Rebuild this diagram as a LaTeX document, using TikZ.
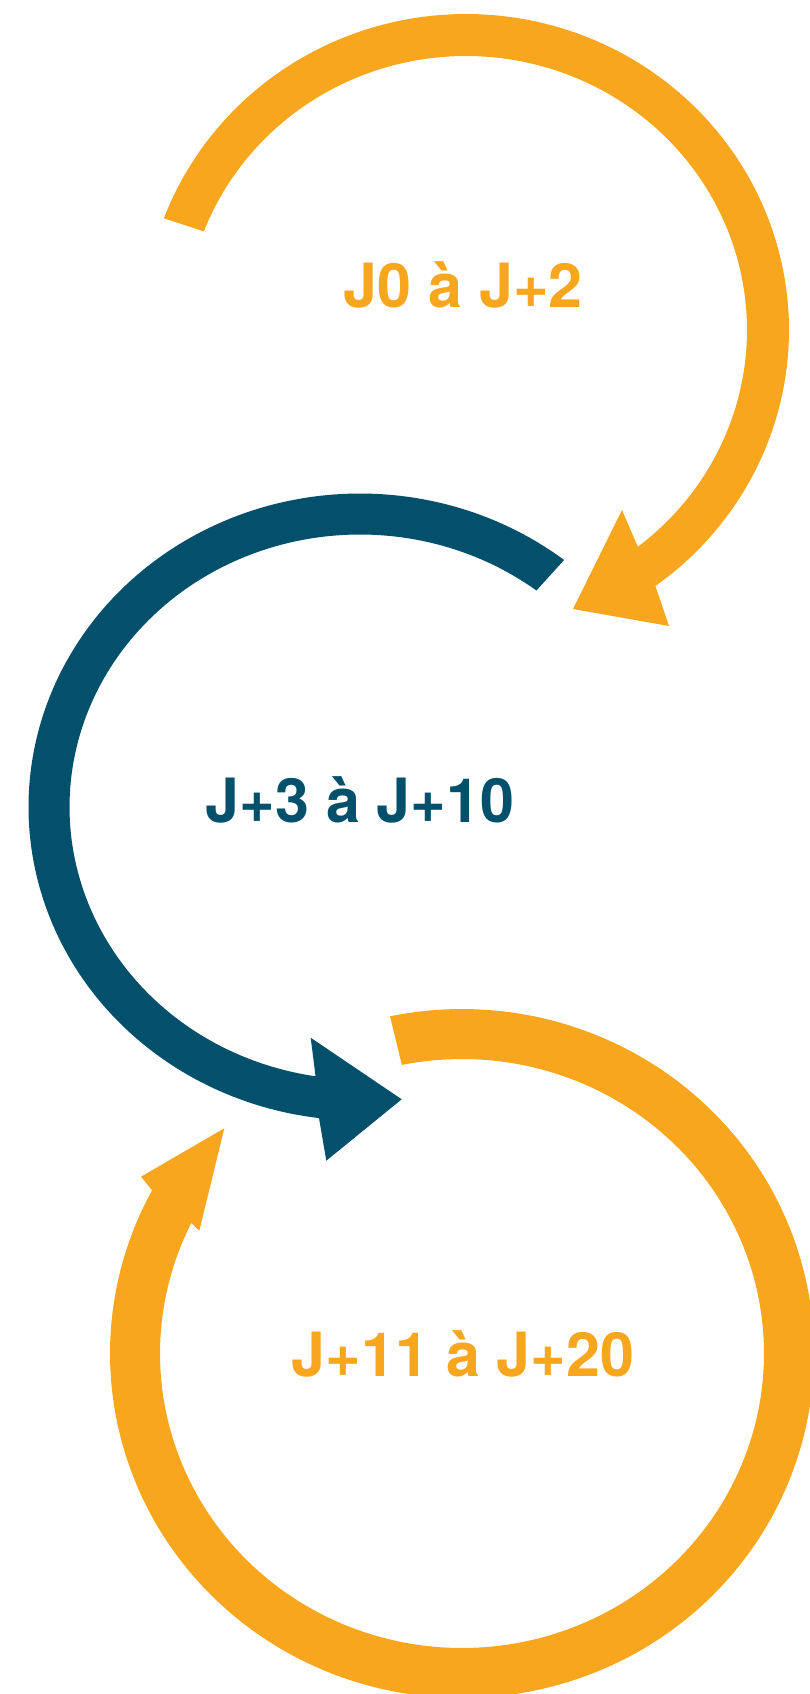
\documentclass[tikz,border=0pt]{standalone}
\usepackage{fontspec}
\newfontfamily\lblfont{TeX Gyre Heros}
\definecolor{orng}{HTML}{F9A61F}
\definecolor{dteal}{HTML}{02506B}
\tikzset{
  lbl/.style={font=\lblfont\bfseries\fontsize{61}{61}\selectfont, anchor=base, inner sep=0pt},
  arr/.style={draw=none},
}
\begin{document}
\begin{tikzpicture}[x=1pt,y=-1pt]
\useasboundingbox (0,0) rectangle (810,1694);
\clip (0,0) rectangle (810,1694);
% top orange arrow
\fill[orng, arr] plot[domain=0:1,samples=150,variable=\s] ({466+323*cos(200.7+213.8*\s)},{330+316*sin(200.7+213.8*\s)})
  -- (669,626) -- (573,609) -- (622,510)
  -- plot[domain=0:1,samples=150,variable=\s] ({466+281*cos(412.3-211.6*\s)},{330+274*sin(412.3-211.6*\s)}) -- cycle;
% middle teal arrow
\fill[dteal, arr] plot[domain=0:1,samples=150,variable=\s] ({360+331.5*cos(-52-211.3*\s)},{807+313.5*sin(-52-211.3*\s)})
  -- (326.3,1160.7) -- (401.7,1099.3) -- (310.7,1037.7)
  -- plot[domain=0:1,samples=150,variable=\s] ({360+290.5*cos(-261.2+209*\s)},{807+272.5*sin(-261.2+209*\s)}) -- cycle;
% bottom orange arrow
\fill[orng, arr] plot[domain=0:1,samples=200,variable=\s] ({462+352*cos(-101.8+310.4*\s)},{1353.5+344.5*sin(-101.8+310.4*\s)})
  -- (141,1176.7) -- (224.3,1128.3) -- (199.3,1230.7)
  -- plot[domain=0:1,samples=200,variable=\s] ({462+302*cos(206.3-308.1*\s)},{1353.5+294.5*sin(206.3-308.1*\s)}) -- cycle;
% labels
\node[lbl, text=orng] (t1) at (463,307) {J0 à J+2};
\node[lbl, text=dteal] (t2) at (360,822) {J+3 à J+10};
\node[lbl, text=orng] (t3) at (463,1376) {J+11 à J+20};
\end{tikzpicture}
\end{document}
